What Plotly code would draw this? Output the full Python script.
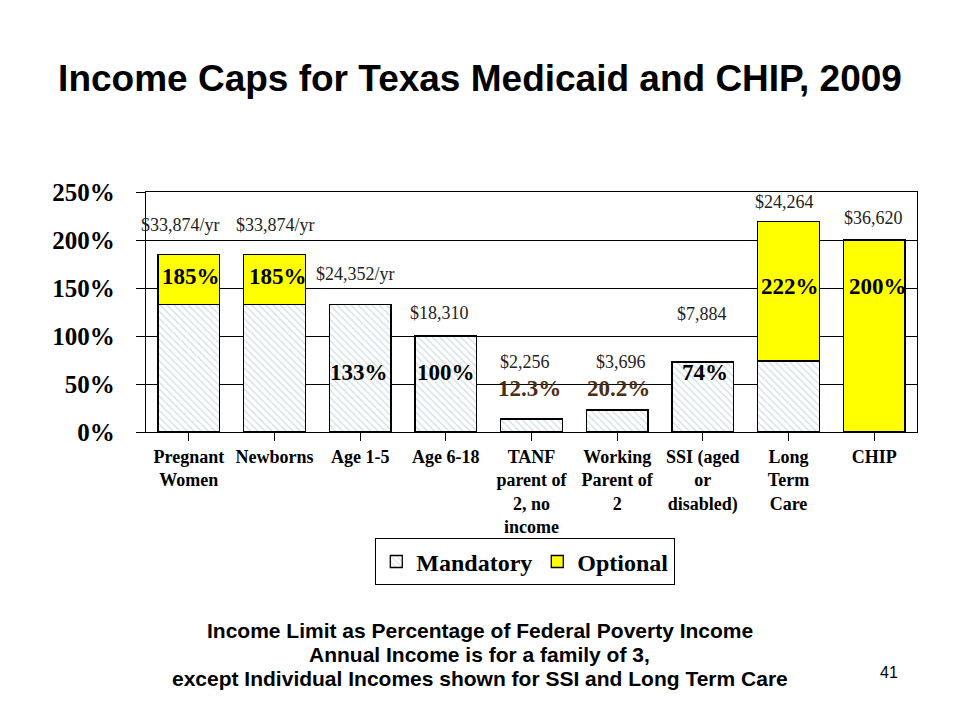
import plotly.graph_objects as go

categories = ["Pregnant<br>Women", "Newborns", "Age 1-5", "Age 6-18",
              "TANF<br>parent of<br>2, no<br>income", "Working<br>Parent of<br>2",
              "SSI (aged<br>or<br>disabled)", "Long<br>Term<br>Care", "CHIP"]
mandatory = [133, 133, 133, 100, 13.5, 23, 73, 74, 0]
optional = [52, 52, 0, 0, 0, 0, 0, 145, 200]
income_labels = ["$33,874/yr", "$33,874/yr", "$24,352/yr", "$18,310", "$2,256",
                 "$3,696", "$7,884", "$24,264", "$36,620"]
pct_labels = ["185%", "185%", "133%", "100%", "12.3%", "20.2%", "74%", "222%", "200%"]
y_ticks = [0, 50, 100, 150, 200, 250]
y_tick_text = ["0%", "50%", "100%", "150%", "200%", "250%"]
footnote_lines = ["Income Limit as Percentage of Federal Poverty Income",
                  "Annual Income is for a family of 3,",
                  "except Individual Incomes shown for SSI and Long Term Care"]

# label placement (data units) and pixel shifts
income_y = [216, 216, 165, 124, 73, 73, 123, 240, 223]
income_dx = [-8, 1, -5, -6, -7, 4, -1, -4, -1]
pct_y = [162, 162, 62, 62, 45, 45, 62, 152, 152]
pct_dx = [2, 3, -1, 0, -2, 1, 2, 1, 4]
pct_colors = ["black"] * 4 + ["#4a2c12", "#4a2c12"] + ["black"] * 3
foot_y = [-0.825, -0.925, -1.025]

xs = list(range(len(categories)))

fig = go.Figure()
fig.add_trace(go.Bar(
    x=xs, y=mandatory, name="Mandatory",
    marker=dict(color="white", line=dict(color="black", width=1.3),
                pattern=dict(shape="\\", fgcolor="#9fbcc6", bgcolor="white",
                             size=5, solidity=0.25)),
))
fig.add_trace(go.Bar(
    x=xs, y=optional, name="Optional",
    marker=dict(color="#ffff00", line=dict(color="black", width=1.3)),
))

ann = []
for i in xs:
    ann.append(dict(x=i, y=income_y[i], xref="x", yref="y", text=income_labels[i],
                    showarrow=False, xshift=income_dx[i],
                    font=dict(family="Liberation Serif", size=18, color="#222")))
    ann.append(dict(x=i, y=pct_y[i], xref="x", yref="y", text="<b>%s</b>" % pct_labels[i],
                    showarrow=False, xshift=pct_dx[i],
                    font=dict(family="Liberation Serif", size=23, color=pct_colors[i])))

for line, fy in zip(footnote_lines, foot_y):
    ann.append(dict(x=0.433, y=fy, xref="paper", yref="paper", showarrow=False,
                    text="<b>%s</b>" % line, yanchor="middle",
                    font=dict(family="Liberation Sans", size=21, color="black")))
ann.append(dict(x=0.978, y=-1.045, xref="paper", yref="paper", showarrow=False,
                text="41", font=dict(family="Liberation Sans", size=16, color="black")))

fig.update_layout(
    width=960, height=720,
    barmode="stack", bargap=0.28,
    plot_bgcolor="white", paper_bgcolor="white",
    margin=dict(l=138, r=51, t=184, b=296, autoexpand=False),
    title=dict(text="<b>Income Caps for Texas Medicaid and CHIP, 2009</b>",
               x=(480 - 8) / 960, xanchor="center", y=1 - 70 / 720, yanchor="middle",
               font=dict(family="Liberation Sans", size=37, color="black")),
    xaxis=dict(tickvals=xs, ticktext=["<b>%s</b>" % c for c in categories],
               range=[-0.5, 8.5], showline=True, linecolor="black", linewidth=1.3,
               mirror=True, ticks="outside", tickson="boundaries", ticklen=8,
               tickcolor="black", showgrid=False, tickangle=0,
               tickfont=dict(family="Liberation Serif", size=18, color="black")),
    yaxis=dict(range=[0, 250], tickvals=y_ticks, ticktext=["<b>%s</b>" % t for t in y_tick_text],
               showline=True, linecolor="black", linewidth=1.3, mirror=True,
               ticks="outside", ticklen=9, tickcolor="black",
               showgrid=True, gridcolor="black", gridwidth=1.3, zeroline=False,
               ticklabelstandoff=16,
               tickfont=dict(family="Liberation Serif", size=25, color="black")),
    legend=dict(orientation="h", x=0.297, xanchor="left", y=-0.442, yanchor="top",
                bordercolor="black", borderwidth=1.3, bgcolor="white",
                font=dict(family="Liberation Serif", size=24, color="black", weight="bold"),
                traceorder="normal", itemwidth=30),
    annotations=ann,
    showlegend=True,
)

fig.write_html("out.html")
